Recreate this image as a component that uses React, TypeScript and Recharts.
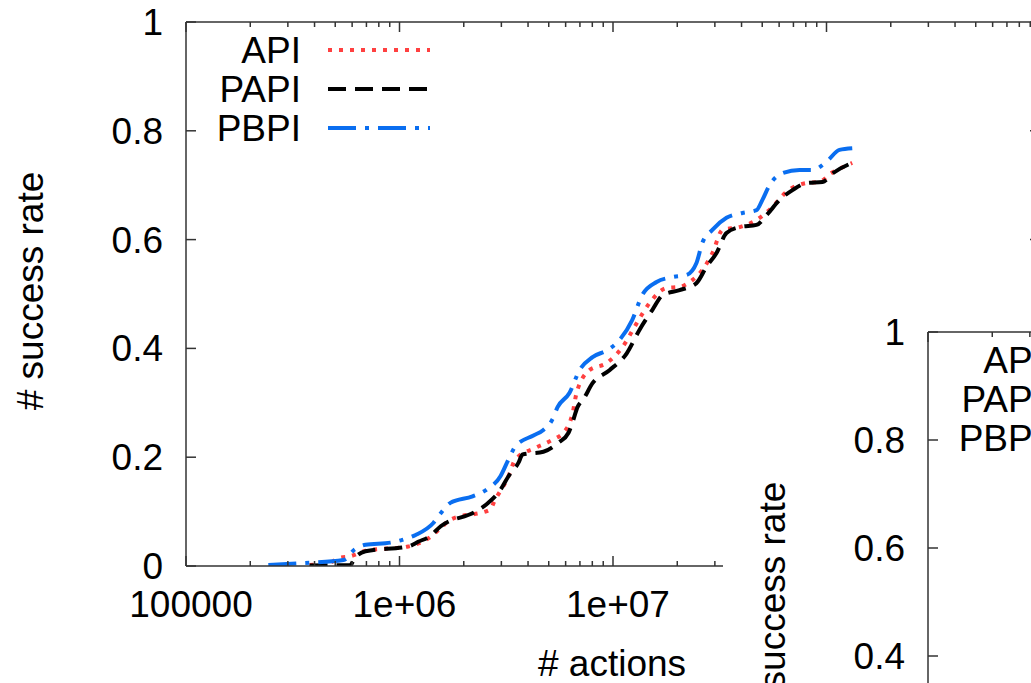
import React from 'react';
import { LineChart, Line, XAxis, YAxis, Legend } from 'recharts';

// ---------- data ----------
const seriesNames = ['API', 'PAPI', 'PBPI'];

const apiX = [3.79e5, 4.7e5, 5.24e5, 5.89e5, 6.93e5, 1.1e6, 1.38e6, 1.56e6, 1.73e6, 2.67e6, 2.76e6, 3.24e6, 3.49e6, 4.38e6, 5.09e6, 6.0e6, 6.46e6, 6.75e6, 7.76e6, 9.33e6, 1.11e7, 1.29e7, 1.48e7, 1.78e7, 2.05e7, 2.36e7, 2.62e7, 2.92e7, 3.26e7, 3.92e7, 4.7e7, 5.58e7, 6.5e7, 8.06e7, 9.27e7, 1.05e8, 1.19e8, 1.32e8];
const apiY = [0.002, 0.006, 0.015, 0.018, 0.028, 0.036, 0.052, 0.07, 0.085, 0.104, 0.116, 0.165, 0.196, 0.218, 0.23, 0.25, 0.28, 0.318, 0.36, 0.373, 0.403, 0.446, 0.483, 0.511, 0.513, 0.526, 0.544, 0.575, 0.618, 0.623, 0.636, 0.66, 0.688, 0.704, 0.706, 0.722, 0.733, 0.741];

const papiX = [3.79e5, 5.89e5, 6.15e5, 6.93e5, 1.1e6, 1.23e6, 1.38e6, 1.56e6, 2.27e6, 2.55e6, 2.97e6, 3.24e6, 3.61e6, 3.77e6, 4.72e6, 5.56e6, 6.19e6, 6.46e6, 6.82e6, 7.28e6, 8.02e6, 9.63e6, 1.16e7, 1.33e7, 1.53e7, 1.71e7, 2.05e7, 2.46e7, 2.74e7, 3.05e7, 3.4e7, 3.92e7, 4.7e7, 5.24e7, 6.03e7, 6.93e7, 8.06e7, 9.58e7, 1.07e8, 1.32e8];
const papiY = [0.001, 0.002, 0.014, 0.027, 0.036, 0.045, 0.054, 0.073, 0.1, 0.113, 0.14, 0.165, 0.19, 0.205, 0.21, 0.227, 0.245, 0.264, 0.292, 0.307, 0.336, 0.36, 0.391, 0.434, 0.471, 0.498, 0.507, 0.52, 0.55, 0.575, 0.612, 0.623, 0.627, 0.645, 0.673, 0.691, 0.704, 0.706, 0.722, 0.741];

const pbpiX = [2.43e5, 3.4e5, 5.47e5, 6.15e5, 6.93e5, 9.08e5, 1.03e6, 1.19e6, 1.44e6, 1.56e6, 1.73e6, 2.2e6, 2.55e6, 2.97e6, 3.24e6, 3.49e6, 4.24e6, 4.72e6, 5.21e6, 5.5e6, 6.25e6, 6.97e6, 8.02e6, 9.42e6, 1.07e7, 1.23e7, 1.37e7, 1.6e7, 1.9e7, 2.21e7, 2.46e7, 2.62e7, 2.92e7, 3.4e7, 4.04e7, 4.7e7, 5.01e7, 5.41e7, 6.22e7, 7.48e7, 8.6e7, 1.0e8, 1.15e8, 1.32e8];
const pbpiY = [0.002, 0.005, 0.011, 0.03, 0.039, 0.043, 0.048, 0.057, 0.079, 0.097, 0.116, 0.128, 0.14, 0.165, 0.196, 0.22, 0.24, 0.25, 0.27, 0.292, 0.318, 0.36, 0.384, 0.397, 0.415, 0.452, 0.498, 0.522, 0.531, 0.535, 0.557, 0.594, 0.618, 0.64, 0.649, 0.654, 0.673, 0.7, 0.722, 0.728, 0.728, 0.743, 0.765, 0.768];

const xMajorTicks = [1e5, 1e6, 1e7, 1e8, 1e9];
const xMajorLabels = ['100000', '1e+06', '1e+07', '1e+08', '1e+09'];
const xMinorMultipliers = [2, 3, 4, 5, 6, 7, 8, 9];
const yTicks = [0, 0.2, 0.4, 0.6, 0.8, 1];
const yTickLabels = ['0', '0.2', '0.4', '0.6', '0.8', '1'];

const xTitle = '# actions';
const yTitle = '# success rate';

// ---------- styling ----------
const FONT = '"Liberation Sans", Arial, sans-serif';
const FS = 37;
const AXIS = '#333';
const seriesColors = ['#ff4040', '#000000', '#0a6ef0'];
const seriesDash = ['4 7', '18 9', '28 9 4 9'];

const zip = (xs: number[], ys: number[]) => xs.map((x, i) => ({ x, y: ys[i] }));
const seriesData = [zip(apiX, apiY), zip(papiX, papiY), zip(pbpiX, pbpiY)];

const xTicks: number[] = [];
xMajorTicks.forEach((m, i) => {
  xTicks.push(m);
  if (i < xMajorTicks.length - 1) xMinorMultipliers.forEach((k) => xTicks.push(k * m));
});
xTicks.sort((a, b) => a - b);

const majorIndex = (v: number) => xMajorTicks.findIndex((m) => Math.abs(m - v) / m < 1e-9);

const BottomTick = (props: any) => {
  const { x, y, payload } = props;
  const mi = majorIndex(payload.value);
  const len = mi >= 0 ? 10 : 5;
  return (
    <g>
      <line x1={x} x2={x} y1={y} y2={y - len} stroke={AXIS} strokeWidth={1.5} />
      {mi >= 0 && (
        <text x={x + 5} y={y + 51} textAnchor="middle" fontSize={FS} fontFamily={FONT} fill="#000">
          {xMajorLabels[mi]}
        </text>
      )}
    </g>
  );
};

const TopTick = (props: any) => {
  const { x, y, payload } = props;
  const mi = majorIndex(payload.value);
  const len = mi >= 0 ? 10 : 5;
  return <line x1={x} x2={x} y1={y} y2={y + len} stroke={AXIS} strokeWidth={1.5} />;
};

const LeftTick = (props: any) => {
  const { x, y, payload } = props;
  const idx = yTicks.indexOf(payload.value);
  return (
    <g>
      <line x1={x} x2={x + 10} y1={y} y2={y} stroke={AXIS} strokeWidth={1.5} />
      <text x={x - 23} y={y + 13} textAnchor="end" fontSize={FS} fontFamily={FONT} fill="#000">
        {idx >= 0 ? yTickLabels[idx] : ''}
      </text>
    </g>
  );
};

const RightTick = (props: any) => {
  const { x, y } = props;
  return <line x1={x} x2={x - 10} y1={y} y2={y} stroke={AXIS} strokeWidth={1.5} />;
};

const makeLegend = (plotLeft: number, plotTop: number) => (props: any) => {
  const payload = props.payload || [];
  return (
    <svg width={plotLeft + 260} height={plotTop + 140} style={{ overflow: 'visible' }}>
      {payload.map((entry: any, i: number) => {
        const cy = plotTop + 28 + i * 39;
        const dash = entry.payload && entry.payload.strokeDasharray;
        return (
          <g key={i}>
            <text x={plotLeft + 115} y={cy + 13} textAnchor="end" fontSize={FS} fontFamily={FONT} fill="#000">
              {entry.value}
            </text>
            <line x1={plotLeft + 142} x2={plotLeft + 244} y1={cy} y2={cy} stroke={entry.color} strokeWidth={4} strokeDasharray={dash} />
          </g>
        );
      })}
    </svg>
  );
};

const YTitle = (props: any) => {
  const vb = props.viewBox || {};
  const cx = vb.x + vb.width - 156;
  const cy = vb.y + 269;
  return (
    <text x={cx} y={cy} transform={`rotate(-90 ${cx} ${cy})`} textAnchor="middle" dominantBaseline="central" fontSize={FS} fontFamily={FONT} fill="#000">
      {yTitle}
    </text>
  );
};

const XTitle = (props: any) => {
  const vb = props.viewBox || {};
  return (
    <text x={vb.x + 426} y={vb.y + 110} textAnchor="middle" fontSize={FS} fontFamily={FONT} fill="#000">
      {xTitle}
    </text>
  );
};

type PanelProps = { yAxisW: number; top: number; plotH: number; xAxisH: number };

const PLOT_W = 854;
const RIGHT_M = 60;

const Panel = ({ yAxisW, top, plotH, xAxisH }: PanelProps) => {
  const width = yAxisW + PLOT_W + RIGHT_M;
  const height = top + plotH + xAxisH;
  return (
    <LineChart width={width} height={height} margin={{ top: top - 1, right: RIGHT_M - 1, left: 0, bottom: 0 }} style={{ background: '#fff' }}>
      <XAxis
        xAxisId="bottom"
        dataKey="x"
        type="number"
        scale="log"
        domain={[1e5, 1e9]}
        allowDataOverflow
        ticks={xTicks}
        interval={0}
        tickSize={0}
        tickMargin={0}
        tickLine={false}
        height={xAxisH}
        axisLine={{ stroke: AXIS, strokeWidth: 1.5 }}
        tick={(p: any) => <BottomTick {...p} />}
        label={<XTitle />}
      />
      <XAxis
        xAxisId="top"
        orientation="top"
        dataKey="x"
        type="number"
        scale="log"
        domain={[1e5, 1e9]}
        allowDataOverflow
        ticks={xTicks}
        interval={0}
        tickSize={0}
        tickMargin={0}
        tickLine={false}
        height={1}
        axisLine={{ stroke: AXIS, strokeWidth: 1.5 }}
        tick={(p: any) => <TopTick {...p} />}
      />
      <YAxis
        yAxisId="left"
        type="number"
        domain={[0, 1]}
        allowDataOverflow
        ticks={yTicks}
        interval={0}
        tickSize={0}
        tickMargin={0}
        tickLine={false}
        width={yAxisW}
        axisLine={{ stroke: AXIS, strokeWidth: 1.5 }}
        tick={(p: any) => <LeftTick {...p} />}
        label={<YTitle />}
      />
      <YAxis
        yAxisId="right"
        orientation="right"
        type="number"
        domain={[0, 1]}
        allowDataOverflow
        ticks={yTicks}
        interval={0}
        tickSize={0}
        tickMargin={0}
        tickLine={false}
        width={1}
        axisLine={{ stroke: AXIS, strokeWidth: 1.5 }}
        tick={(p: any) => <RightTick {...p} />}
      />
      <Legend
        layout="vertical"
        align="center"
        verticalAlign="middle"
        content={makeLegend(yAxisW, top)}
        wrapperStyle={{ left: 0, top: 0, width: yAxisW + 260, height: top + 140 }}
      />
      {seriesNames.map((name, i) => (
        <Line
          key={name}
          name={name}
          xAxisId="bottom"
          yAxisId="left"
          data={seriesData[i]}
          dataKey="y"
          type="monotone"
          stroke={seriesColors[i]}
          strokeWidth={4}
          strokeDasharray={seriesDash[i]}
          dot={false}
          activeDot={false}
          isAnimationActive={false}
        />
      ))}
    </LineChart>
  );
};

export default function App() {
  return (
    <div style={{ position: 'fixed', left: 0, top: 0, width: 1031, height: 683, overflow: 'hidden', background: '#fff' }}>
      <div style={{ position: 'absolute', left: 0, top: 0 }}>
        <Panel yAxisW={186} top={22} plotH={544} xAxisH={117} />
      </div>
      <div style={{ position: 'absolute', left: 723, top: 300, width: 308, height: 383, overflow: 'hidden', background: '#fff' }}>
        <Panel yAxisW={205} top={32} plotH={540} xAxisH={117} />
      </div>
    </div>
  );
}
